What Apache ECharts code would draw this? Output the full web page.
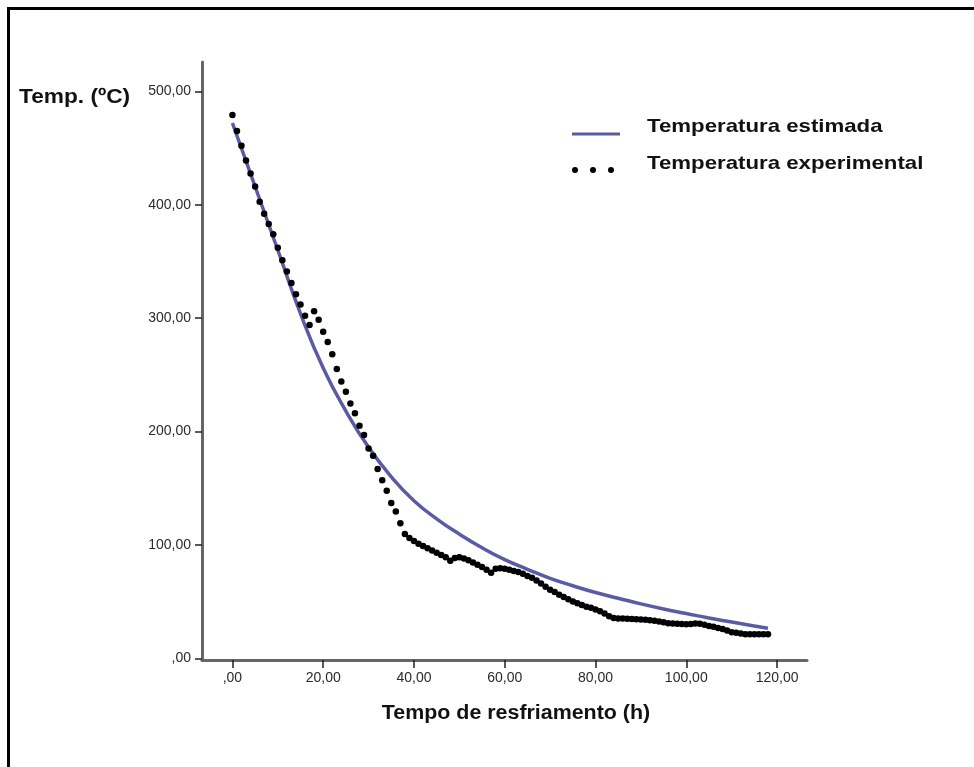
<!DOCTYPE html>
<html><head><meta charset="utf-8">
<script src="https://cdn.jsdelivr.net/npm/echarts@6/dist/echarts.min.js"></script>
<style>html,body{margin:0;padding:0;background:#fff}#c{width:974px;height:767px}</style>
</head><body><div id="c"></div>
<script>
const xTicks = [0, 20, 40, 60, 80, 100, 120];
const yTicks = [0, 100, 200, 300, 400, 500];

const estTime = [0, 5, 10, 15, 20, 25, 30, 35, 40, 45, 50, 55, 60, 65, 70, 75, 80, 85, 90, 95, 100, 105, 110, 115, 118];
const estTemp = [472, 416, 360, 304, 256, 218, 186, 160, 139, 123, 109.5, 97.5, 87, 78.5, 70.5, 64, 58, 53, 48, 43.5, 39.5, 35.5, 32, 28.5, 26.5];

const expTime = [0,1,2,3,4,5,6,7,8,9,10,11,12,13,14,15,16,17,18,19,20,21,22,23,24,25,26,27,28,29,30,31,32,33,34,35,36,37,38,39,40,41,42,43,44,45,46,47,48,49,50,51,52,53,54,55,56,57,58,59,60,61,62,63,64,65,66,67,68,69,70,71,72,73,74,75,76,77,78,79,80,81,82,83,84,85,86,87,88,89,90,91,92,93,94,95,96,97,98,99,100,101,102,103,104,105,106,107,108,109,110,111,112,113,114,115,116,117,118];
const expTemp = [479,465,452,439,427.5,416,402.6,392,383,374,362,351,341,331,321,312,302,294,306,298.5,288,279,268,255,244,235,224.7,216,205,197,185,178.6,167,157,147.7,137,129.5,119,109.5,
106,103.5,101,99,97,95,93,91,89,86,88.5,89,88,86.5,84.5,82.5,80.5,78,75.5,79,79.5,79,78,77,76,74.5,72.5,71,68.5,66,63,60.5,58.5,56,54,52,50,48.5,47,45.5,44.5,43,41.5,39.5,37,35.5,35,35,34.8,34.7,34.5,34.3,34,33.5,33,32.5,31.8,31,30.7,30.5,30.2,30,30.3,30.6,30.5,29.5,28.5,27.8,26.8,25.8,24.5,23,22.5,21.8,21.3,21.2,21.2,21.3,21.3,21.3];

const seriesNames = ['Temperatura estimada', 'Temperatura experimental'];
const yTitle = 'Temp. (ºC)';
const xTitle = 'Tempo de resfriamento (h)';

const fmt = v => v === 0 ? ',00' : v.toFixed(2).replace('.', ',');
const FONT = 'Liberation Sans, Arial, sans-serif';

const chart = echarts.init(document.getElementById('c'), null, {renderer: 'canvas'});
chart.setOption({
  animation: false,
  backgroundColor: '#fff',
  grid: {left: 202, right: 167, top: 62, bottom: 107, containLabel: false},
  xAxis: {
    type: 'value', min: -6.7, max: 126.6,
    axisLine: {show: true, onZero: false, lineStyle: {color: '#666', width: 3}},
    axisTick: {show: true, customValues: xTicks, length: 8, lineStyle: {color: '#222', width: 1.5}},
    axisLabel: {customValues: xTicks, formatter: fmt, margin: 11, fontSize: 14, color: '#2a2a2a', fontFamily: FONT},
    splitLine: {show: false}
  },
  yAxis: {
    type: 'value', min: -1.5, max: 525.8,
    axisLine: {show: true, onZero: false, lineStyle: {color: '#666', width: 3}},
    axisTick: {show: true, customValues: yTicks, length: 7, lineStyle: {color: '#222', width: 1.5}},
    axisLabel: {customValues: yTicks, formatter: fmt, margin: 11, fontSize: 14, color: '#2a2a2a', fontFamily: FONT},
    splitLine: {show: false}
  },
  series: [
    {
      name: seriesNames[0], type: 'line', smooth: true, showSymbol: false, z: 2,
      data: estTime.map((t, i) => [t, estTemp[i]]),
      lineStyle: {color: '#5b5ba3', width: 3.5}
    },
    {
      name: seriesNames[1], type: 'scatter', symbolSize: 6.5, z: 3,
      data: expTime.map((t, i) => [t, expTemp[i]]),
      itemStyle: {color: '#000', opacity: 1}
    }
  ],
  graphic: [
    {type: 'rect', shape: {x: 7, y: 7, width: 3, height: 760}, style: {fill: '#000'}},
    {type: 'rect', shape: {x: 7, y: 7, width: 967, height: 3}, style: {fill: '#000'}},
    {type: 'text', x: 19, y: 97, scaleX: 1.08, style: {text: yTitle, font: 'bold 21px ' + FONT, fill: '#111', textVerticalAlign: 'middle'}},
    {type: 'text', x: 516, y: 713, scaleX: 1.07, style: {text: xTitle, font: 'bold 20px ' + FONT, fill: '#111', textAlign: 'center', textVerticalAlign: 'middle'}},
    {type: 'rect', shape: {x: 572, y: 132.5, width: 48, height: 3}, style: {fill: '#5b5ba3'}},
    {type: 'circle', shape: {cx: 575, cy: 170, r: 3}, style: {fill: '#000'}},
    {type: 'circle', shape: {cx: 593, cy: 170, r: 3}, style: {fill: '#000'}},
    {type: 'circle', shape: {cx: 611, cy: 170, r: 3}, style: {fill: '#000'}},
    {type: 'text', x: 647, y: 127, scaleX: 1.17, style: {text: seriesNames[0], font: 'bold 19px ' + FONT, fill: '#111', textVerticalAlign: 'middle'}},
    {type: 'text', x: 647, y: 164, scaleX: 1.17, style: {text: seriesNames[1], font: 'bold 19px ' + FONT, fill: '#111', textVerticalAlign: 'middle'}}
  ]
});
</script></body></html>
